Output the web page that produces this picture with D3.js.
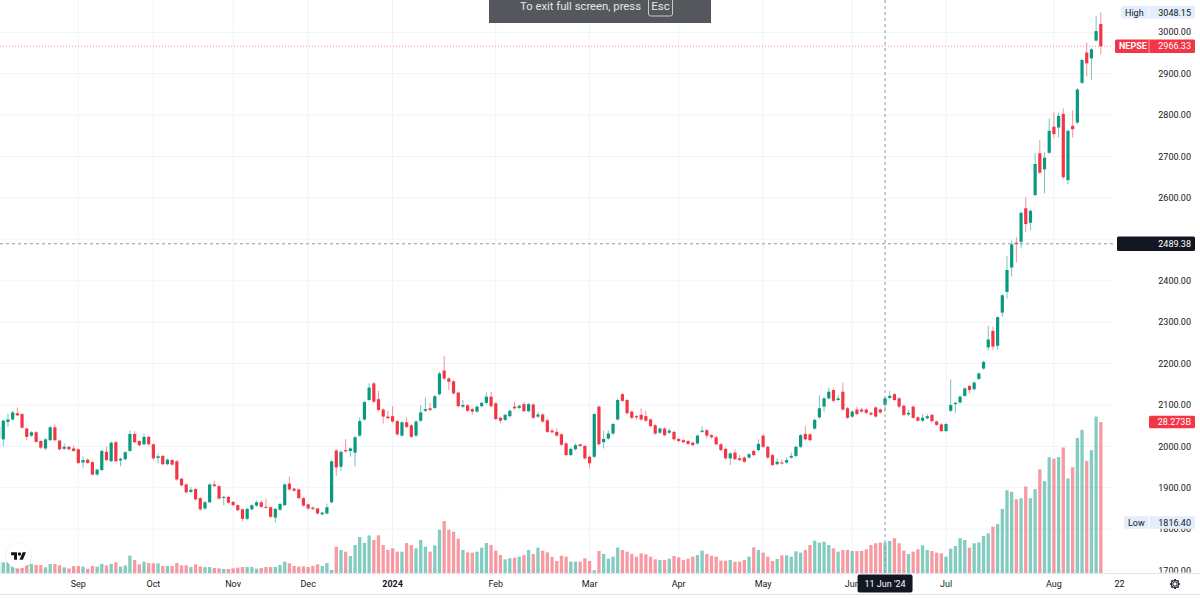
<!DOCTYPE html>
<html>
<head>
<meta charset="utf-8">
<script src="https://cdn.jsdelivr.net/npm/d3@7"></script>
<style>
  body { margin: 0; background: #fff; }
  svg { display: block; font-family: Roboto, "Noto Sans", sans-serif; }
</style>
</head>
<body>
<svg id="chart" width="1200" height="598"></svg>
<script>
"use strict";
/* daily NEPSE candles: [open, high, low, close] */
var ohlc = [
  [2020,2052,2015,2047],[2017,2065,2001,2062],[2059,2079,2047,2065],[2065,2086,2062,2082],[2080,2094,2073,2075],
  [2078,2081,2043,2045],[2043,2045,2015,2023],[2026,2037,2023,2034],[2034,2037,2008,2011],[2013,2015,1993,1997],
  [1995,2019,1991,2017],[2015,2049,2013,2046],[2046,2053,2012,2015],[2014,2016,1990,1993],[1994,2007,1992,1999],
  [1999,2001,1991,1993],[1995,2002,1987,1989],[1993,1995,1957,1960],[1961,1976,1947,1967],[1968,1971,1958,1960],
  [1962,1964,1929,1932],[1932,1946,1929,1944],[1943,1992,1940,1989],[1987,1999,1964,1967],[1964,2012,1962,2009],
  [2010,2013,1962,1964],[1966,1973,1952,1970],[1969,1988,1966,1986],[1989,2039,1987,2030],[2030,2037,2007,2010],
  [2013,2015,2000,2003],[2005,2031,2003,2023],[2023,2026,2002,2005],[2005,2007,1968,1971],[1972,1983,1959,1976],
  [1977,1980,1954,1957],[1957,1971,1954,1968],[1967,1970,1953,1956],[1964,1967,1917,1920],[1922,1924,1903,1906],
  [1908,1910,1886,1889],[1890,1902,1887,1895],[1897,1899,1869,1872],[1875,1877,1845,1848],[1850,1868,1847,1865],
  [1865,1911,1863,1908],[1908,1917,1902,1904],[1904,1906,1871,1874],[1877,1881,1858,1878],[1878,1881,1861,1864],
  [1866,1868,1855,1858],[1858,1860,1843,1846],[1848,1850,1819,1825],[1825,1852,1822,1849],[1848,1860,1845,1858],
  [1857,1869,1854,1865],[1865,1870,1852,1854],[1854,1874,1850,1852],[1853,1855,1827,1830],[1828,1852,1816.4,1849],
  [1847,1864,1844,1861],[1858,1911,1856,1908],[1910,1927,1893,1896],[1898,1900,1890,1893],[1896,1898,1872,1875],
  [1875,1877,1854,1857],[1860,1862,1847,1850],[1852,1855,1846,1849],[1850,1852,1835,1838],[1836,1842,1833,1840],
  [1838,1862,1836,1853],[1865,1967,1862,1964],[1990,1993,1929,1949],[1951,1990,1941,1987],[1991,2018,1985,1988],
  [1989,1998,1975,1995],[1985,2025,1951,2022],[2026,2070,2023,2061],[2065,2110,2062,2107],[2112,2152,2109,2142],
  [2152,2156,2105,2108],[2114,2134,2085,2088],[2089,2092,2055,2072],[2072,2086,2065,2068],[2073,2097,2057,2060],
  [2061,2064,2026,2029],[2026,2061,2023,2058],[2058,2070,2044,2047],[2051,2054,2020,2023],[2026,2063,2023,2060],
  [2062,2100,2059,2082],[2086,2118,2083,2090],[2092,2105,2085,2088],[2093,2124,2090,2121],[2126,2180,2123,2176],
  [2183,2218,2160,2164],[2164,2167,2136,2156],[2157,2160,2125,2128],[2130,2132,2094,2097],[2096,2112,2093,2100],
  [2099,2102,2083,2086],[2090,2093,2076,2084],[2084,2099,2081,2096],[2097,2108,2094,2105],[2105,2130,2102,2120],
  [2120,2132,2094,2097],[2104,2107,2063,2066],[2069,2072,2056,2062],[2064,2079,2061,2076],[2073,2089,2070,2086],
  [2096,2108,2089,2092],[2093,2101,2090,2098],[2102,2108,2082,2085],[2085,2105,2082,2102],[2101,2104,2066,2069],
  [2072,2084,2069,2077],[2077,2080,2057,2060],[2063,2066,2032,2035],[2038,2043,2031,2034],[2035,2043,2023,2026],
  [2029,2032,2001,2004],[2007,2010,1976,1979],[1979,1997,1976,1994],[1993,2007,1990,2003],[2005,2006,1998,2001],
  [2001,2004,1968,1971],[1975,1978,1947,1959],[1975,2081,1972,2078],[2096,2099,2002,2005],[2010,2038,1995,2018],
  [2019,2039,2016,2031],[2031,2057,2028,2054],[2065,2115,2062,2112],[2126,2129,2107,2110],[2112,2115,2077,2080],
  [2084,2087,2066,2069],[2073,2076,2064,2070],[2076,2092,2062,2065],[2073,2086,2059,2062],[2065,2068,2046,2049],
  [2051,2054,2028,2031],[2033,2046,2030,2043],[2043,2046,2024,2027],[2033,2043,2030,2038],[2035,2038,2014,2017],
  [2018,2020,2010,2013],[2015,2018,2007,2010],[2013,2015,2003,2006],[2009,2011,2000,2003],[2007,2029,2004,2026],
  [2035,2049,2033,2038],[2039,2042,2019,2026],[2027,2030,2019,2022],[2022,2025,2002,2005],[2005,2008,1988,1991],
  [1994,1997,1968,1971],[1971,1986,1955,1983],[1985,1993,1966,1969],[1971,1979,1964,1967],[1973,1976,1960,1963],
  [1973,1984,1970,1981],[1989,1992,1976,1979],[1991,2017,1988,2006],[2026,2029,1996,1999],[1999,2002,1970,1973],
  [1979,1982,1952,1955],[1957,1971,1954,1963],[1961,1969,1956,1959],[1961,1973,1958,1967],[1973,1985,1970,1977],
  [1977,2002,1974,1999],[1999,2030,1996,2027],[2030,2049,2014,2017],[2029,2032,2011,2015],[2043,2067,2040,2064],
  [2070,2124,2067,2092],[2096,2119,2084,2116],[2116,2142,2113,2132],[2136,2140,2106,2110],[2112,2124,2109,2116],
  [2132,2154,2086,2089],[2092,2095,2066,2069],[2072,2087,2069,2084],[2089,2096,2075,2078],[2089,2093,2081,2084],
  [2089,2092,2078,2081],[2081,2084,2074,2077],[2094,2097,2069,2072],[2089,2092,2079,2082],[2100,2119,2084,2116],
  [2117,2134,2115,2122],[2126,2129,2109,2112],[2116,2119,2093,2096],[2098,2101,2073,2076],[2077,2088,2074,2081],
  [2096,2099,2066,2069],[2070,2073,2059,2062],[2062,2078,2059,2069],[2068,2078,2065,2073],[2076,2079,2058,2061],
  [2060,2063,2049,2052],[2053,2056,2034,2037],[2037,2057,2034,2054],[2086,2162,2083,2100],[2102,2108,2081,2105],
  [2106,2123,2103,2120],[2122,2143,2119,2140],[2146,2148,2128,2136],[2138,2157,2135,2154],[2163,2179,2160,2176],
  [2188,2207,2185,2204],[2239,2291,2231,2258],[2279,2289,2233,2241],[2243,2314,2233,2312],[2323,2367,2313,2365],
  [2373,2460,2357,2426],[2432,2497,2410,2488],[2492,2505,2444,2488],[2494,2567,2478,2564],[2575,2601,2517,2537],
  [2540,2572,2522,2569],[2607,2709,2604,2682],[2708,2740,2658,2661],[2669,2710,2611,2697],[2709,2792,2706,2762],
  [2772,2807,2744,2754],[2770,2806,2746,2798],[2803,2816,2646,2650],[2643,2765,2633,2762],[2774,2812,2746,2766],
  [2782,2865,2779,2862],[2878,2936,2875,2933],[2951,2975,2893,2925],[2937,2962,2885,2959],[2980,3040,2977,3003],
  [3020,3048.15,2947,2966.33]
];
/* turnover, billions */
var volume = [
  2.0,2.0,2.0,1.2,1.0,1.0,1.5,1.7,1.5,1.5,1.06,1.7,1.7,1.44,1.06,0.87,1.3,1.3,1.2,0.8,
  1.3,1.2,1.7,1.4,1.7,2.0,1.2,1.4,3.25,2.43,1.62,2.12,1.87,1.81,1.81,1.31,1.31,1.31,1.87,1.44,
  1.44,1.12,1.62,1.25,1.12,1.12,0.94,0.87,0.75,0.75,0.87,1.0,1.12,1.12,1.12,0.81,0.94,1.12,1.12,1.12,
  1.5,2.12,1.81,1.31,1.19,1.25,1.12,1.31,1.62,1.31,1.87,0.56,4.93,4.31,4.0,3.18,5.24,6.74,5.62,7.05,
  6.18,7.05,5.24,4.31,4.62,4.0,4.0,5.62,5.24,4.62,6.18,4.93,4.0,5.18,8.1,9.74,8.1,7.74,6.43,4.31,
  3.87,3.81,4.0,4.74,5.62,5.24,4.18,3.37,2.56,2.75,2.87,3.06,3.37,4.31,3.56,4.74,4.18,3.87,3.0,2.25,
  3.25,3.06,2.12,2.12,2.12,2.75,2.25,0.5,4.12,3.56,2.68,3.06,4.74,4.31,4.0,3.56,3.06,3.68,3.5,3.06,
  2.56,2.43,2.43,2.68,3.18,2.93,2.43,2.68,3.06,3.37,4.18,3.56,3.25,3.06,2.31,2.31,2.43,2.12,2.12,2.43,
  3.06,4.8,4.31,3.81,3.06,2.25,2.62,3.31,3.31,3.06,4.06,3.81,4.31,5.24,6.06,5.68,5.87,5.24,4.62,4.0,
  4.31,4.31,4.12,4.12,4.12,4.43,5.24,5.56,5.68,5.68,6.0,6.5,5.56,4.18,3.56,4.0,4.43,5.18,4.31,4.12,
  3.81,3.68,3.06,4.56,5.06,6.5,6.18,4.74,5.56,5.74,6.93,7.43,8.68,9.18,12.0,15.5,15.2,13.8,14.0,16.2,
  14.0,15.7,19.4,17.2,21.7,21.4,21.7,23.5,17.7,19.8,25.3,26.8,21.0,23.0,29.3,28.273
];
var priceTicks = [1700, 1800, 1900, 2000, 2100, 2200, 2300, 2400, 2500, 2600, 2700, 2800, 2900, 3000];
var timeTicks = [
  {i: 17, label: "Sep"}, {i: 33, label: "Oct"}, {i: 50, label: "Nov"}, {i: 66, label: "Dec"},
  {i: 84, label: "2024", bold: true}, {i: 106, label: "Feb"}, {i: 126, label: "Mar"}, {i: 145, label: "Apr"},
  {i: 163, label: "May"}, {i: 182, label: "Jun"}, {i: 202, label: "Jul"}, {i: 225, label: "Aug"}, {i: 239, label: "22"}
];
var crosshair = {i: 189, date: "11 Jun '24", price: 2489.38};
var lastPrice = 2966.33, visHigh = 3048.15, visLow = 1816.40, lastVolume = "28.273B";

var colors = {
  up: "#089981",
  down: "#f23645",
  upVol: "rgba(8,153,129,0.5)",
  downVol: "rgba(242,54,69,0.5)",
  grid: "#f0f3fa",
  text: "#131722",
  border: "#e0e3eb"
};

var paneRight = 1113, paneBottom = 573.5;
var svg = d3.select("#chart");

var x = d3.scaleLinear().domain([0, ohlc.length - 1]).range([-1.4, 1100.8]);
var y = d3.scaleLinear().domain([1700, 3000]).range([570.6, 32.3]);
var yVol = d3.scaleLinear().domain([0, 30]).range([573, 412.8]);

var defs = svg.append("defs");
defs.append("clipPath").attr("id", "pane")
  .append("rect").attr("x", 0).attr("y", 0).attr("width", paneRight).attr("height", paneBottom);
defs.append("clipPath").attr("id", "axisclip")
  .append("rect").attr("x", paneRight).attr("y", 0).attr("width", 1200 - paneRight).attr("height", 572.5);
var shadow = defs.append("filter").attr("id", "shadow").attr("x", "-50%").attr("y", "-50%").attr("width", "200%").attr("height", "200%");
shadow.append("feDropShadow").attr("dx", 0).attr("dy", 0.5).attr("stdDeviation", 1.2).attr("flood-color", "#000").attr("flood-opacity", 0.18);

var pane = svg.append("g").attr("clip-path", "url(#pane)");

/* grid */
pane.append("g").selectAll("line").data(priceTicks).enter().append("line")
  .attr("x1", 0).attr("x2", paneRight)
  .attr("y1", function(d) { return y(d); }).attr("y2", function(d) { return y(d); })
  .attr("stroke", colors.grid).attr("stroke-width", 1);
pane.append("g").selectAll("line").data(timeTicks).enter().append("line")
  .attr("x1", function(d) { return x(d.i); }).attr("x2", function(d) { return x(d.i); })
  .attr("y1", 0).attr("y2", paneBottom)
  .attr("stroke", colors.grid).attr("stroke-width", 1);

var isUp = function(d) { return d[3] >= d[0]; };

/* volume */
pane.append("g").selectAll("rect").data(volume).enter().append("rect")
  .attr("x", function(d, i) { return x(i) - 1.65; })
  .attr("width", 3.3)
  .attr("y", function(d) { return yVol(d); })
  .attr("height", function(d) { return yVol(0) - yVol(d); })
  .attr("fill", function(d, i) { return isUp(ohlc[i]) ? colors.upVol : colors.downVol; });

/* candles */
var candles = pane.append("g").selectAll("g").data(ohlc).enter().append("g");
candles.append("line")
  .attr("x1", function(d, i) { return x(i); }).attr("x2", function(d, i) { return x(i); })
  .attr("y1", function(d) { return y(d[1]); }).attr("y2", function(d) { return y(d[2]); })
  .attr("stroke", function(d) { return isUp(d) ? colors.up : colors.down; })
  .attr("stroke-opacity", 0.55)
  .attr("stroke-width", 1);
candles.append("rect")
  .attr("x", function(d, i) { return x(i) - 1.6; })
  .attr("width", 3.2)
  .attr("y", function(d) { return y(Math.max(d[0], d[3])); })
  .attr("height", function(d) { return Math.max(1, Math.abs(y(d[0]) - y(d[3]))); })
  .attr("fill", function(d) { return isUp(d) ? colors.up : colors.down; });

/* last price line */
pane.append("line")
  .attr("x1", 0).attr("x2", paneRight)
  .attr("y1", y(lastPrice)).attr("y2", y(lastPrice))
  .attr("stroke", colors.down).attr("stroke-opacity", 0.6)
  .attr("stroke-dasharray", "1,2").attr("stroke-width", 1);

/* crosshair */
pane.append("line")
  .attr("x1", 0).attr("x2", paneRight)
  .attr("y1", y(crosshair.price)).attr("y2", y(crosshair.price))
  .attr("stroke", "#9598a1").attr("stroke-dasharray", "3,3").attr("stroke-width", 1);
svg.append("line")
  .attr("x1", x(crosshair.i)).attr("x2", x(crosshair.i))
  .attr("y1", 0).attr("y2", paneBottom)
  .attr("stroke", "#9598a1").attr("stroke-dasharray", "3,3").attr("stroke-width", 1);

/* axis borders */
svg.append("line").attr("x1", 0).attr("x2", 1200).attr("y1", paneBottom).attr("y2", paneBottom)
  .attr("stroke", colors.border).attr("stroke-width", 1);
svg.append("line").attr("x1", 0).attr("x2", 1200).attr("y1", 594.5).attr("y2", 594.5)
  .attr("stroke", colors.border).attr("stroke-width", 1);

/* price axis: labels under the crosshair tag are hidden, as in the app */
var shownTicks = priceTicks.filter(function(d) {
  return Math.abs(y(d) - y(crosshair.price)) > 9;
});
svg.append("g").attr("clip-path", "url(#axisclip)")
  .selectAll("text").data(shownTicks).enter().append("text")
  .attr("x", 1191).attr("y", function(d) { return y(d); })
  .attr("dy", "0.35em").attr("text-anchor", "end")
  .attr("font-size", 9).attr("fill", colors.text)
  .text(function(d) { return d3.format(".2f")(d); });

/* time axis */
svg.append("g").selectAll("text").data(timeTicks).enter().append("text")
  .attr("x", function(d) { return x(d.i); }).attr("y", 584)
  .attr("dy", "0.35em").attr("text-anchor", "middle")
  .attr("font-size", 9).attr("fill", colors.text)
  .attr("font-weight", function(d) { return d.bold ? "bold" : "normal"; })
  .text(function(d) { return d.label; });

/* price tags */
var tag = function(opts) {
  var g = svg.append("g");
  var h = opts.h || 12.5;
  var yc = opts.yc;
  g.append("rect").attr("x", opts.x0).attr("y", yc - h / 2).attr("width", 1195 - opts.x0).attr("height", h)
    .attr("rx", 1.5).attr("fill", opts.fill);
  if (opts.label) {
    g.append("line").attr("x1", 1149).attr("x2", 1149).attr("y1", yc - h / 2).attr("y2", yc + h / 2)
      .attr("stroke", opts.sep).attr("stroke-width", 1);
    g.append("text").attr("x", opts.x0 + 4).attr("y", yc).attr("dy", "0.35em")
      .attr("font-size", 9).attr("font-weight", opts.bold ? "bold" : "normal")
      .attr("fill", opts.color).text(opts.label);
  }
  g.append("text").attr("x", 1191).attr("y", yc).attr("dy", "0.35em").attr("text-anchor", "end")
    .attr("font-size", 9).attr("fill", opts.color).text(opts.value);
};
tag({x0: 1121, yc: y(visHigh), fill: "#e3edfb", sep: "#fff", color: colors.text, label: "High", value: d3.format(".2f")(visHigh)});
tag({x0: 1115, yc: y(lastPrice), h: 13.5, fill: colors.down, sep: "#f8a2aa", color: "#fff", label: "NEPSE", bold: true, value: d3.format(".2f")(lastPrice)});
tag({x0: 1117, yc: y(crosshair.price), h: 14.5, fill: colors.text, color: "#fff", value: d3.format(".2f")(crosshair.price)});
tag({x0: 1149, yc: yVol(volume[volume.length - 1]), fill: colors.down, color: "#fff", value: lastVolume});
tag({x0: 1124, yc: y(visLow), fill: "#e3edfb", sep: "#fff", color: colors.text, label: "Low", value: d3.format(".2f")(visLow)});

/* crosshair date tag */
svg.append("rect").attr("x", x(crosshair.i) - 27.5).attr("y", 574.5).attr("width", 55).attr("height", 18)
  .attr("rx", 2).attr("fill", colors.text);
svg.append("text").attr("x", x(crosshair.i)).attr("y", 583.5).attr("dy", "0.35em").attr("text-anchor", "middle")
  .attr("font-size", 9).attr("fill", "#fff").text(crosshair.date);

/* settings gear */
var gear = svg.append("g").attr("transform", "translate(1175,584)")
  .attr("stroke", colors.text).attr("fill", "none").attr("stroke-width", 1);
gear.append("circle").attr("r", 2.2);
gear.append("path").attr("d", d3.range(8).map(function(k) {
  var a = k * Math.PI / 4;
  return "M" + (3.2 * Math.cos(a)).toFixed(2) + "," + (3.2 * Math.sin(a)).toFixed(2) +
    "L" + (5 * Math.cos(a)).toFixed(2) + "," + (5 * Math.sin(a)).toFixed(2);
}).join("")).attr("stroke-width", 1.6);
gear.append("circle").attr("r", 3.8);

/* logo */
svg.append("circle").attr("cx", 18.5).attr("cy", 556).attr("r", 12.5)
  .attr("fill", "#fff").attr("filter", "url(#shadow)");
var logo = svg.append("g").attr("transform", "translate(11.1,550.6) scale(0.42)").attr("fill", colors.text);
logo.append("path").attr("d", "M14 22H7V11H0V4h14v18zM28 22h-8l7.5-18h8L28 22z");
logo.append("circle").attr("cx", 20).attr("cy", 8).attr("r", 4);

/* full screen banner */
svg.append("rect").attr("x", 489).attr("y", 0).attr("width", 222).attr("height", 23).attr("fill", "#54585c");
svg.append("text").attr("x", 520).attr("y", 9.5).attr("font-size", 11.5).attr("fill", "#e6e6e6")
  .attr("textLength", 121).attr("lengthAdjust", "spacingAndGlyphs")
  .text("To exit full screen, press");
svg.append("rect").attr("x", 648.5).attr("y", -3).attr("width", 24).attr("height", 19).attr("rx", 2)
  .attr("fill", "none").attr("stroke", "#c8c8c8").attr("stroke-width", 1);
svg.append("text").attr("x", 660.5).attr("y", 9.5).attr("text-anchor", "middle").attr("font-size", 11.5)
  .attr("fill", "#e6e6e6").text("Esc");
</script>
</body>
</html>
